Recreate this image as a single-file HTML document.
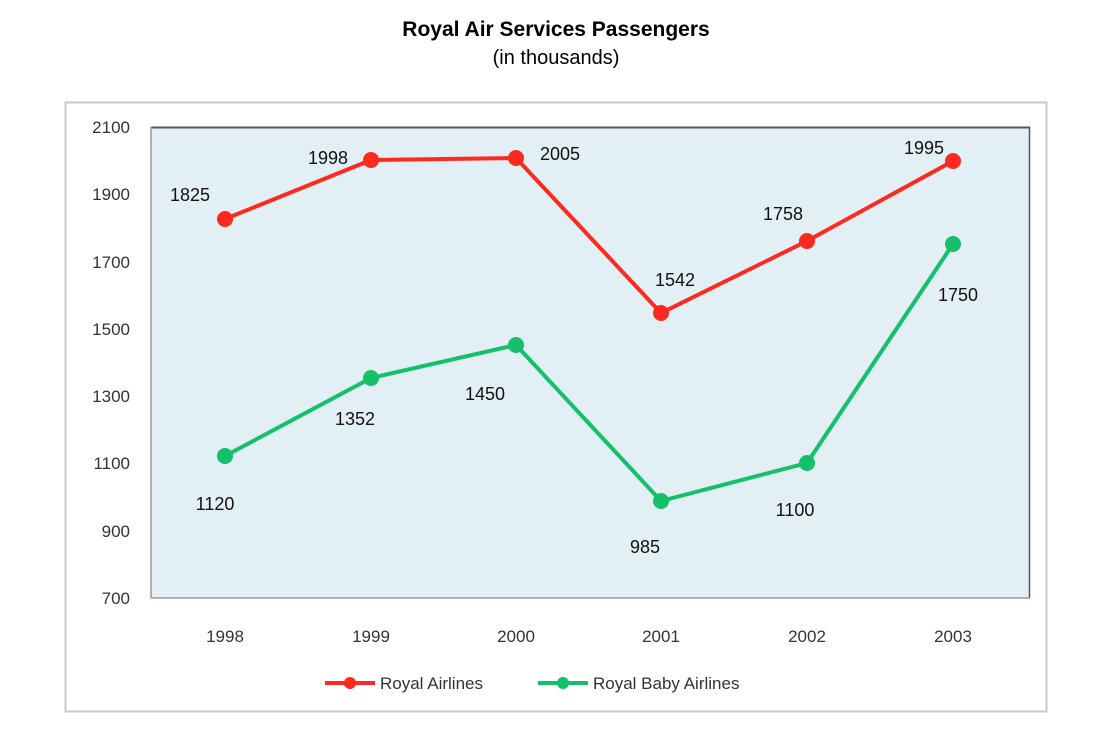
<!DOCTYPE html>
<html><head><style>
body{margin:0;background:#fff;width:1102px;height:732px;overflow:hidden}
</style></head><body>
<svg width="1102" height="732" xmlns="http://www.w3.org/2000/svg" font-family="'Liberation Sans', sans-serif">
<text x="556" y="36" text-anchor="middle" font-size="21" font-weight="bold" fill="#000">Royal Air Services Passengers</text>
<text x="556" y="64" text-anchor="middle" font-size="20" fill="#000">(in thousands)</text>
<rect x="65.5" y="102.5" width="981" height="609" fill="#fff" stroke="#c8c8c8" stroke-width="2"/>
<rect x="151" y="127" width="879" height="471" fill="#e2eff5"/>
<line x1="151" y1="127.5" x2="1030" y2="127.5" stroke="#555" stroke-width="2"/>
<line x1="1029.5" y1="127" x2="1029.5" y2="598" stroke="#555" stroke-width="1.5"/>
<line x1="151" y1="127" x2="151" y2="598" stroke="#999" stroke-width="1.5"/>
<line x1="151" y1="598" x2="1030" y2="598" stroke="#999" stroke-width="1.5"/>
<g font-size="17" fill="#333" text-anchor="end">
<text x="130" y="133">2100</text><text x="130" y="200">1900</text><text x="130" y="268">1700</text>
<text x="130" y="335">1500</text><text x="130" y="402">1300</text><text x="130" y="469">1100</text>
<text x="130" y="537">900</text><text x="130" y="604">700</text>
</g>
<g font-size="17" fill="#333" text-anchor="middle">
<text x="225" y="642">1998</text><text x="371" y="642">1999</text><text x="516" y="642">2000</text>
<text x="661" y="642">2001</text><text x="807" y="642">2002</text><text x="953" y="642">2003</text>
</g>
<polyline points="225,219 371,160 516,158 661,313 807,241 953,161" fill="none" stroke="#ff2a1f" stroke-width="4"/>
<g fill="#ff2a1f">
<circle cx="225" cy="219" r="8"/><circle cx="371" cy="160" r="8"/><circle cx="516" cy="158" r="8"/>
<circle cx="661" cy="313" r="8"/><circle cx="807" cy="241" r="8"/><circle cx="953" cy="161" r="8"/>
</g>
<polyline points="225,456 371,378 516,345 661,501 807,463 953,244" fill="none" stroke="#14c06a" stroke-width="4"/>
<g fill="#14c06a">
<circle cx="225" cy="456" r="8"/><circle cx="371" cy="378" r="8"/><circle cx="516" cy="345" r="8"/>
<circle cx="661" cy="501" r="8"/><circle cx="807" cy="463" r="8"/><circle cx="953" cy="244" r="8"/>
</g>
<g font-size="18" fill="#111" text-anchor="middle">
<text x="190" y="201">1825</text><text x="328" y="164">1998</text><text x="560" y="160">2005</text>
<text x="675" y="286">1542</text><text x="783" y="220">1758</text><text x="924" y="154">1995</text>
<text x="215" y="510">1120</text><text x="355" y="425">1352</text><text x="485" y="400">1450</text>
<text x="645" y="553">985</text><text x="795" y="516">1100</text><text x="958" y="301">1750</text>
</g>
<line x1="325" y1="683" x2="375" y2="683" stroke="#ff2a1f" stroke-width="4"/>
<circle cx="350" cy="683" r="6" fill="#ff2a1f"/>
<text x="380" y="689" font-size="17" fill="#333">Royal Airlines</text>
<line x1="538" y1="683" x2="588" y2="683" stroke="#14c06a" stroke-width="4"/>
<circle cx="563" cy="683" r="6" fill="#14c06a"/>
<text x="593" y="689" font-size="17" fill="#333">Royal Baby Airlines</text>
</svg>
</body></html>
